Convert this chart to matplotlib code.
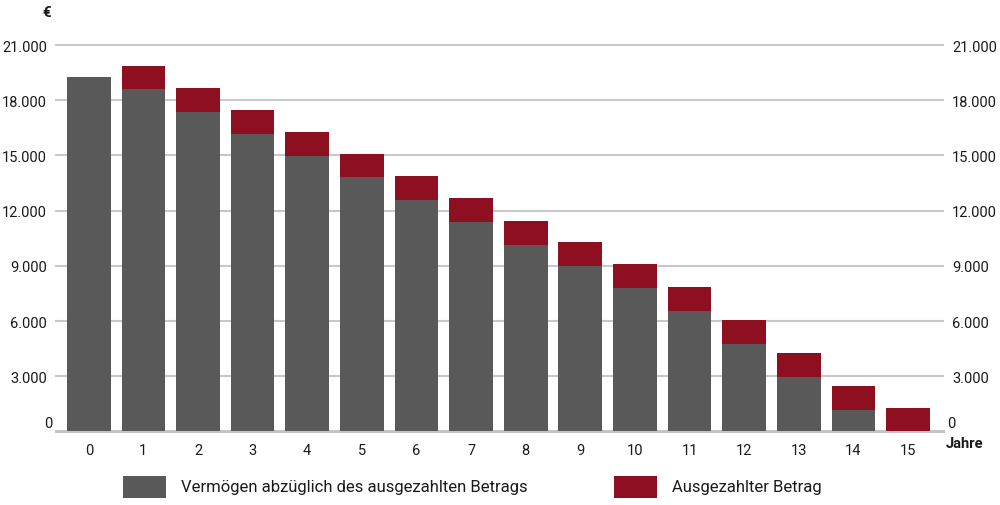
import matplotlib.pyplot as plt
from matplotlib.patches import Rectangle
from matplotlib.transforms import offset_copy

# Werte
jahre = list(range(16))
vermoegen = [19250, 18600, 17380, 16190, 14990, 13810, 12580, 11380,
             10160, 8990, 7790, 6570, 4760, 2980, 1170, 0]
ausgezahlt = [0, 1270, 1290, 1300, 1290, 1270, 1300, 1310,
              1290, 1300, 1285, 1275, 1290, 1275, 1290, 1260]
y_ticks = [0, 3000, 6000, 9000, 12000, 15000, 18000, 21000]
y_labels = ["", "3.000", "6.000", "9.000", "12.000", "15.000", "18.000", "21.000"]
legend_labels = ["Vermögen abzüglich des ausgezahlten Betrags", "Ausgezahlter Betrag"]

GRAU = "#595959"
ROT = "#8e1020"
TEXT = "#1a1a1a"

plt.rcParams["font.family"] = ["Roboto", "DejaVu Sans"]

fig = plt.figure(figsize=(10, 5.06), dpi=100)
ax = fig.add_axes([0.056, 0.1453, 0.887, 0.7637])

ax.bar(jahre, vermoegen, width=0.8, color=GRAU, zorder=3)
ax.bar(jahre, ausgezahlt, width=0.8, bottom=vermoegen, color=ROT, zorder=3)

ax.set_xlim(-0.6, 15.64)
ax.set_ylim(0, 21000)
ax.set_yticks(y_ticks, y_labels)
ax.set_xticks(jahre, [str(j) for j in jahre])

for t in y_ticks[1:]:
    ax.axhline(t, color="#c8c8c8", lw=1.5, zorder=1, clip_on=False)
ax.axhline(0, color="#c4c4c4", lw=2.2, zorder=2, clip_on=False)

for s in ax.spines.values():
    s.set_visible(False)
ax.tick_params(axis="y", left=False, right=False, labelleft=True, labelright=True,
               pad=3, labelsize=10.5, labelcolor=TEXT)
ax.tick_params(axis="x", bottom=False, pad=5, labelsize=10.5, labelcolor=TEXT)

# Null-Beschriftung leicht oberhalb der Linie
tr_l = offset_copy(ax.get_yaxis_transform(), fig=fig, x=-4, y=8, units="dots")
tr_r = offset_copy(ax.get_yaxis_transform(), fig=fig, x=4, y=8, units="dots")
ax.text(0, 0, "0", transform=tr_l, ha="right", va="center", fontsize=10.5, color=TEXT)
ax.text(1, 0, "0", transform=tr_r, ha="left", va="center", fontsize=10.5, color=TEXT)

fig.text(0.047, 0.974, "€", ha="center", va="center", fontsize=11, fontweight="bold", color=TEXT)
fig.text(0.946, 0.122, "Jahre", ha="left", va="center", fontsize=10.5, fontweight="bold", color=TEXT)

# Legende
for x0, farbe, text in [(0.123, GRAU, legend_labels[0]), (0.614, ROT, legend_labels[1])]:
    fig.add_artist(Rectangle((x0, 0.014), 0.043, 0.043, transform=fig.transFigure,
                             facecolor=farbe, edgecolor="none"))
    fig.text(x0 + 0.058, 0.036, text, ha="left", va="center", fontsize=12, color=TEXT)

fig.savefig("out.png", dpi=100)
